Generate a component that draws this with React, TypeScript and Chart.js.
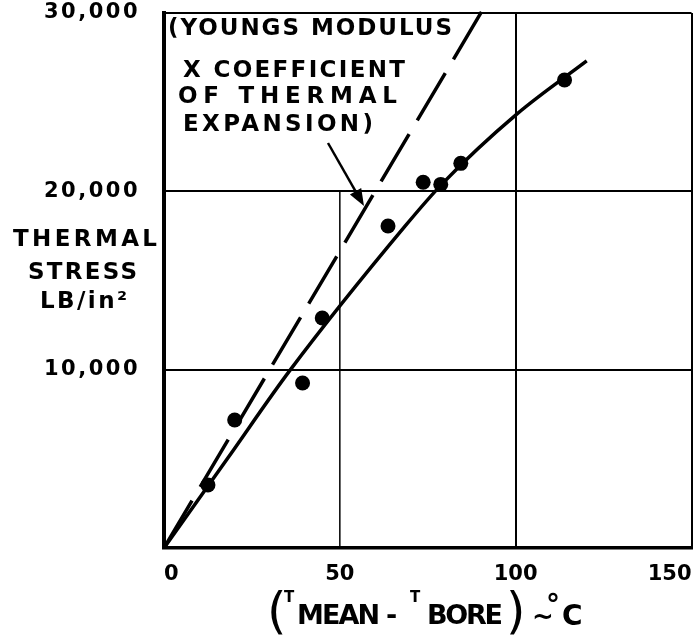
import React, { useEffect, useRef } from 'react';
import { Chart, registerables } from 'chart.js';

Chart.register(...registerables);

// ---- data ----
const xTickValues = [0, 50, 100, 150];
const yTickValues = [0, 10000, 20000, 30000];

// measured points: (Tmean - Tbore) °C vs thermal stress lb/in²
const measuredTemp = [12.5, 20.1, 39.4, 45.0, 63.7, 73.7, 78.7, 84.4, 113.9];
const measuredStress = [3530, 7180, 9250, 12900, 18060, 20510, 20390, 21570, 26240];

// faired solid curve through the measurements
const fitTemp = [0, 18, 35.7, 68.6, 79.1, 100.4, 120.2];
const fitStress = [0, 5000, 9930, 18060, 20420, 24340, 27310];

// dashed line: Youngs modulus x coefficient of thermal expansion
const elasticTemp = [0, 91];
const elasticStress = [0, 30300];

const annotationLines = ['(YOUNGS MODULUS', 'X COEFFICIENT', 'OF THERMAL', 'EXPANSION)'];
const yTitleLines = ['THERMAL', 'STRESS', 'LB/in²'];

const FONT = '"DejaVu Sans", "Liberation Sans", sans-serif';

function drawText(ctx: any, text: string, x: number, baseline: number, size: number, weight = 'bold', width?: number) {
  ctx.font = `${weight} ${size}px ${FONT}`;
  ctx.letterSpacing = '0px';
  ctx.textAlign = 'left';
  ctx.textBaseline = 'alphabetic';
  if (width !== undefined) {
    const n = Array.from(text).length;
    const w = ctx.measureText(text).width;
    const sp = n > 1 ? (width - w) / (n - 1) : 0;
    ctx.letterSpacing = `${sp}px`;
  }
  ctx.fillText(text, x, baseline);
  ctx.letterSpacing = '0px';
}

const decorPlugin = {
  id: 'decor',
  beforeDraw(chart: any) {
    const ctx = chart.ctx;
    ctx.save();
    ctx.fillStyle = '#fff';
    ctx.fillRect(0, 0, chart.width, chart.height);
    ctx.restore();
    ctx.letterSpacing = '2.5px'; // wide lettering for the y tick labels
  },
  beforeDatasetsDraw(chart: any) {
    const { ctx, scales } = chart;
    const x = scales.x;
    const y = scales.y;
    ctx.save();
    ctx.strokeStyle = '#000';
    ctx.lineWidth = 1.5;
    const px = x.getPixelForValue(xTickValues[1]);
    ctx.beginPath();
    ctx.moveTo(px, y.getPixelForValue(yTickValues[2]));
    ctx.lineTo(px, y.getPixelForValue(yTickValues[0]));
    ctx.stroke();
    ctx.restore();
  },
  afterDatasetsDraw(chart: any) {
    chart.ctx.letterSpacing = '0px';
  },
  afterDraw(chart: any) {
    const ctx = chart.ctx;
    ctx.save();
    ctx.fillStyle = '#000';
    ctx.strokeStyle = '#000';

    // annotation text
    const ann = [
      [168, 35, 284],
      [183, 77, 222],
      [178, 103, 219],
      [183, 131, 190],
    ];
    annotationLines.forEach((t, i) => drawText(ctx, t, ann[i][0], ann[i][1], 23, 'bold', ann[i][2]));

    // arrow to dashed line
    const ax0 = 328, ay0 = 143, ax1 = 364, ay1 = 206;
    const ang = Math.atan2(ay1 - ay0, ax1 - ax0);
    const c = Math.cos(ang), s = Math.sin(ang);
    ctx.lineWidth = 2.5;
    ctx.beginPath();
    ctx.moveTo(ax0, ay0);
    ctx.lineTo(ax1 - 12 * c, ay1 - 12 * s);
    ctx.stroke();
    ctx.beginPath();
    ctx.moveTo(ax1, ay1);
    ctx.lineTo(ax1 - 17 * c + 6.5 * s, ay1 - 17 * s - 6.5 * c);
    ctx.lineTo(ax1 - 17 * c - 6.5 * s, ay1 - 17 * s + 6.5 * c);
    ctx.closePath();
    ctx.fill();

    // y axis title
    const yt = [
      [13, 246, 144],
      [28, 279, 109],
      [40, 308, 87],
    ];
    yTitleLines.forEach((t, i) => drawText(ctx, t, yt[i][0], yt[i][1], 23, 'bold', yt[i][2]));

    // x axis title  (TMEAN - TBORE) ~°C
    drawText(ctx, '(', 267, 628, 50, 'normal');
    drawText(ctx, 'T', 284, 602, 15, 'bold');
    drawText(ctx, 'MEAN', 297, 624, 27, 'bold', 83);
    drawText(ctx, '-', 386, 624, 27, 'bold');
    drawText(ctx, 'T', 410, 602, 15, 'bold');
    drawText(ctx, 'BORE', 427, 624, 27, 'bold', 76);
    drawText(ctx, ')', 506, 628, 50, 'normal');
    drawText(ctx, '~', 532, 625, 26, 'bold');
    drawText(ctx, '°', 546, 614, 28, 'bold');
    drawText(ctx, 'C', 562, 625, 28, 'bold', 30);

    ctx.restore();
  },
};

export default function App() {
  const canvasRef = useRef<HTMLCanvasElement | null>(null);

  useEffect(() => {
    const canvas = canvasRef.current;
    if (!canvas) return;
    const transparent = 'rgba(0,0,0,0)';
    const chart = new Chart(canvas, {
      type: 'scatter',
      data: {
        datasets: [
          {
            label: 'Measured',
            data: measuredTemp.map((t, i) => ({ x: t, y: measuredStress[i] })),
            showLine: false,
            pointRadius: 7.5,
            pointBackgroundColor: '#000',
            pointBorderWidth: 0,
            pointBorderColor: '#000',
          },
          {
            label: 'Faired curve',
            data: fitTemp.map((t, i) => ({ x: t, y: fitStress[i] })),
            showLine: true,
            borderColor: '#000',
            borderWidth: 3.5,
            pointRadius: 0,
            cubicInterpolationMode: 'monotone',
            fill: false,
          },
          {
            label: 'Youngs modulus x coefficient of thermal expansion',
            data: elasticTemp.map((t, i) => ({ x: t, y: elasticStress[i] })),
            showLine: true,
            borderColor: '#000',
            borderWidth: 3.5,
            borderDash: [55, 16],
            pointRadius: 0,
            fill: false,
            clip: false,
          },
        ],
      } as any,
      options: {
        responsive: false,
        animation: false,
        devicePixelRatio: 1,
        events: [],
        layout: { padding: { top: 13, right: 6, left: 0, bottom: 0 } },
        plugins: { legend: { display: false }, tooltip: { enabled: false } },
        scales: {
          x: {
            type: 'linear',
            min: 0,
            max: 150,
            afterBuildTicks: (s: any) => {
              s.ticks = xTickValues.map((v) => ({ value: v }));
            },
            afterFit: (s: any) => {
              s.height = 92;
              s.paddingLeft = 0;
              s.paddingRight = 0;
            },
            ticks: {
              color: '#000',
              font: { family: FONT, size: 21, weight: 'bold' },
              align: 'inner',
              padding: 14,
              maxRotation: 0,
              autoSkip: false,
              z: 1,
              callback: (v: any) => String(v),
            },
            grid: {
              drawTicks: false,
              color: (c: any) => (c.tick && (c.tick.value === 100 || c.tick.value === 150) ? '#000' : transparent),
              lineWidth: 2,
            },
            border: { display: true, color: '#000', width: 3.5 },
          },
          y: {
            type: 'linear',
            min: 0,
            max: 30000,
            afterBuildTicks: (s: any) => {
              s.ticks = yTickValues.map((v) => ({ value: v }));
            },
            afterFit: (s: any) => {
              s.width = 164;
              s.paddingTop = 0;
              s.paddingBottom = 0;
            },
            ticks: {
              color: '#000',
              font: { family: FONT, size: 21, weight: 'bold' },
              padding: 24,
              autoSkip: false,
              callback: (v: any) => (Number(v) === 0 ? '' : Number(v).toLocaleString('en-US')),
            },
            grid: {
              drawTicks: false,
              color: (c: any) => (c.tick && c.tick.value === 0 ? transparent : '#000'),
              lineWidth: 2,
            },
            border: { display: true, color: '#000', width: 4 },
          },
        },
      } as any,
      plugins: [decorPlugin as any],
    });
    return () => chart.destroy();
  }, []);

  return (
    <div style={{ position: 'absolute', left: 0, top: 0, width: 699, height: 640, background: '#fff' }}>
      <canvas ref={canvasRef} width={699} height={640} style={{ display: 'block', width: 699, height: 640 }} />
    </div>
  );
}
